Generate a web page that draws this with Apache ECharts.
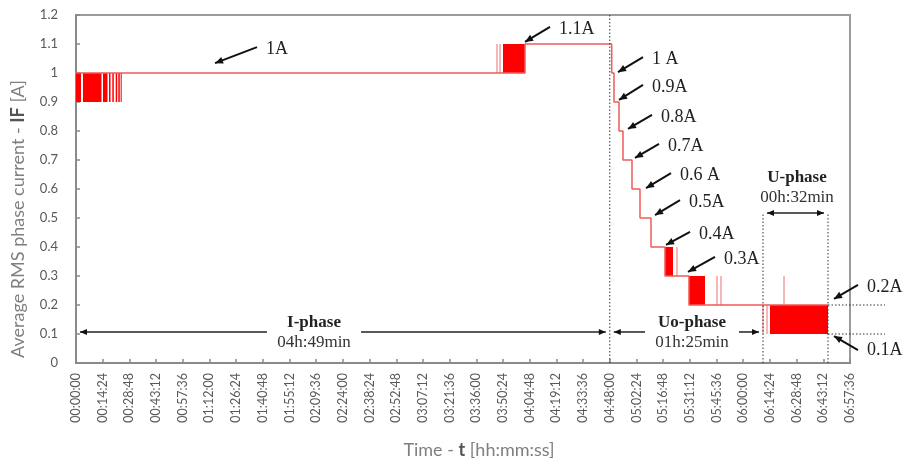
<!DOCTYPE html>
<html><head><meta charset="utf-8">
<script src="https://cdn.jsdelivr.net/npm/echarts@6/dist/echarts.min.js"></script>
<style>html,body{margin:0;padding:0;background:#fff}#c{width:907px;height:461px}</style>
</head><body><div id="c"></div>
<script>
// ---------- DATA ----------
const tickLabels = ['00:00:00','00:14:24','00:28:48','00:43:12','00:57:36','01:12:00','01:26:24','01:40:48','01:55:12','02:09:36','02:24:00','02:38:24','02:52:48','03:07:12','03:21:36','03:36:00','03:50:24','04:04:48','04:19:12','04:33:36','04:48:00','05:02:24','05:16:48','05:31:12','05:45:36','06:00:00','06:14:24','06:28:48','06:43:12','06:57:36'];

// corner points of the measured RMS current trace
const traceTimes  = ['00:00:00','04:02:15','04:02:15','04:49:02','04:49:02','04:50:16','04:50:16','04:52:58','04:52:58','04:55:07','04:55:07','04:59:59','04:59:59','05:04:18','05:04:18','05:10:14','05:10:14','05:17:47','05:17:47','05:30:44','05:30:44','06:45:44'];
const traceValues = [1.0,1.0,1.1,1.1,1.0,1.0,0.9,0.9,0.8,0.8,0.7,0.7,0.6,0.6,0.5,0.5,0.4,0.4,0.3,0.3,0.2,0.2];

// intervals of rapid switching between two current levels
const bandStart = ['00:00:00','00:03:47','00:14:34','00:17:48','00:19:35','00:21:25','00:22:49','00:24:07','03:50:23','05:17:47','05:30:44','06:14:26'];
const bandEnd   = ['00:02:42','00:13:45','00:17:00','00:18:37','00:20:24','00:22:14','00:23:38','00:24:39','04:02:15','05:22:06','05:39:22','06:45:44'];
const bandLow   = [0.9,0.9,0.9,0.9,0.9,0.9,0.9,0.9,1.0,0.3,0.2,0.1];
const bandHigh  = [1.0,1.0,1.0,1.0,1.0,1.0,1.0,1.0,1.1,0.4,0.3,0.2];

// isolated short switching spikes
const spikeTimes = ['03:47:09','03:48:46','05:24:15','05:45:50','05:48:00','06:10:40','06:12:49','06:22:00'];
const spikeLow   = [1.0,1.0,0.3,0.2,0.2,0.1,0.1,0.2];
const spikeHigh  = [1.1,1.1,0.4,0.3,0.3,0.2,0.2,0.3];

// level annotations (arrow tip in data coordinates)
const levelLabels    = ['1A','1.1A','1 A','0.9A','0.8A','0.7A','0.6 A','0.5A','0.4A','0.3A','0.2A','0.1A'];
const levelTipTimes  = ['01:15:00','04:02:15','04:52:26','04:52:58','04:57:49','05:01:36','05:07:32','05:12:23','05:18:20','05:30:12','06:48:58','06:48:58'];
const levelTipValues = [1.034,1.107,1.003,0.907,0.807,0.707,0.603,0.510,0.407,0.314,0.221,0.093];

// test phases
const phaseNames     = ['I-phase','Uo-phase','U-phase'];
const phaseDurations = ['04h:49min','01h:25min','00h:32min'];
const phaseStart     = ['00:00:00','04:48:00','06:10:40'];
const phaseEnd       = ['04:48:00','06:10:40','06:45:44'];
const phaseLabelTime = ['02:08:25','05:32:21','06:29:00'];
const phaseArrowValue= [0.107,0.107,0.517];
const phaseNameValue = [0.138,0.138,0.641];
const phaseDurValue  = [0.069,0.069,0.572];
const phaseGap       = [true,true,false];
const levelLines     = [0.2,0.1];
const levelLinesEnd  = '07:16:29';

// ---------- HELPERS ----------
function sec(s){const p=s.split(':').map(Number);return p[0]*3600+p[1]*60+p[2];}
const TMAX = sec('06:57:36'), TSTEP = sec('00:14:24');

const chart = echarts.init(document.getElementById('c'));
const serif = '"Liberation Serif","Times New Roman",serif';
const sans = 'Lato, "Open Sans", sans-serif';

const traceData = traceTimes.map((t,i)=>[sec(t),traceValues[i]]);
const bandData = bandStart.map((t,i)=>[sec(t),sec(bandEnd[i]),bandLow[i],bandHigh[i]]);
const spikeData = spikeTimes.map((t,i)=>[sec(t),spikeLow[i],spikeHigh[i]]);

chart.setOption({
  animation:false,
  grid:{left:76,right:57,top:15,bottom:98,show:true,borderColor:'#9b9b9b',borderWidth:2,containLabel:false},
  xAxis:{type:'value',min:0,max:TMAX,interval:TSTEP,
    axisLine:{lineStyle:{color:'#8a8a8a',width:2}},
    axisTick:{inside:true,length:4,lineStyle:{color:'#8a8a8a',width:1.5}},
    axisLabel:{rotate:90,margin:10,color:'#595959',fontFamily:sans,fontSize:12.5,
      formatter:v=>tickLabels[Math.round(v/TSTEP)]},
    splitLine:{show:false}},
  yAxis:{type:'value',min:0,max:1.2,interval:0.1,
    axisLine:{show:true,lineStyle:{color:'#8a8a8a',width:2}},
    axisTick:{show:true,inside:true,length:4,lineStyle:{color:'#8a8a8a',width:1.5}},
    axisLabel:{margin:18,color:'#595959',fontFamily:sans,fontSize:13,
      formatter:v=>String(+v.toFixed(1))},
    splitLine:{show:false}},
  series:[
    {type:'custom',renderItem:(params,api)=>{
        const a=api.coord([api.value(0),api.value(3)]), b=api.coord([api.value(1),api.value(2)]);
        return {type:'rect',shape:{x:a[0],y:a[1],width:Math.max(b[0]-a[0],1),height:b[1]-a[1]},style:{fill:'#ff0000'}};
      },data:bandData,encode:{x:[0,1],y:[2,3]},z:3},
    {type:'custom',renderItem:(params,api)=>{
        const a=api.coord([api.value(0),api.value(1)]), b=api.coord([api.value(0),api.value(2)]);
        return {type:'line',shape:{x1:a[0],y1:a[1],x2:b[0],y2:b[1]},style:{stroke:'#f2a0a0',lineWidth:1.5}};
      },data:spikeData,encode:{x:0,y:[1,2]},z:2},
    {type:'line',data:traceData,symbol:'none',lineStyle:{color:'#ef5a5a',width:1.5},z:4}
  ]
});

// ---------- ANNOTATIONS ----------
function P(t,v){return chart.convertToPixel({xAxisIndex:0,yAxisIndex:0},[typeof t==='string'?sec(t):t,v]);}
function head(tip,from,L,W){
  const dx=tip[0]-from[0],dy=tip[1]-from[1],d=Math.hypot(dx,dy),ux=dx/d,uy=dy/d;
  const bx=tip[0]-ux*L,by=tip[1]-uy*L;
  return {type:'polygon',shape:{points:[tip,[bx-uy*W,by+ux*W],[bx+uy*W,by-ux*W]]},style:{fill:'#111'},z:20};
}
const g=[];
const tailOff=[[42,-16],[25,-15],[25,-15],[24,-15],[24,-14],[24,-14],[25,-15],[25,-15],[24,-13],[27,-15],[24,-14],[24,14]];
levelLabels.forEach((lab,i)=>{
  const tip=P(levelTipTimes[i],levelTipValues[i]);
  const tail=[tip[0]+tailOff[i][0],tip[1]+tailOff[i][1]];
  g.push({type:'line',shape:{x1:tail[0],y1:tail[1],x2:tip[0],y2:tip[1]},style:{stroke:'#111',lineWidth:2},z:20});
  g.push(head(tip,tail,8,3.5));
  g.push({type:'text',x:tail[0]+9,y:tail[1]+(i===11?0:2),style:{text:lab,fill:'#222',font:'18px '+serif,textAlign:'left',textVerticalAlign:'middle'},z:20});
});
// phase arrows
phaseNames.forEach((nm,i)=>{
  const a=P(phaseStart[i],phaseArrowValue[i]), b=P(phaseEnd[i],phaseArrowValue[i]);
  const x1=a[0]+4,x2=b[0]-4,y=a[1];
  const c=P(phaseLabelTime[i],phaseNameValue[i]), d=P(phaseLabelTime[i],phaseDurValue[i]);
  if(phaseGap[i]){
    g.push({type:'line',shape:{x1:x1,y1:y,x2:c[0]-47,y2:y},style:{stroke:'#222',lineWidth:1.5},z:20});
    g.push({type:'line',shape:{x1:c[0]+47,y1:y,x2:x2,y2:y},style:{stroke:'#222',lineWidth:1.5},z:20});
  } else {
    g.push({type:'line',shape:{x1:x1,y1:y,x2:x2,y2:y},style:{stroke:'#222',lineWidth:1.5},z:20});
  }
  g.push(head([x1,y],[x1+10,y],7,3));
  g.push(head([x2,y],[x2-10,y],7,3));
  g.push({type:'text',x:c[0],y:c[1],style:{text:nm,fill:'#222',font:'bold 17px '+serif,textAlign:'center',textVerticalAlign:'middle'},z:20});
  g.push({type:'text',x:d[0],y:d[1],style:{text:phaseDurations[i],fill:'#333',font:'17px '+serif,textAlign:'center',textVerticalAlign:'middle'},z:20});
});
// dotted phase boundaries
const dotted={stroke:'#333',lineWidth:1,lineDash:[1.5,2]};
[['04:48:00',1.2],['06:10:40',phaseArrowValue[2]],['06:45:44',phaseArrowValue[2]]].forEach(([t,top])=>{
  const a=P(t,0),b=P(t,top);
  g.push({type:'line',shape:{x1:a[0],y1:a[1],x2:b[0],y2:b[1]},style:dotted,z:15});
});
levelLines.forEach(v=>{
  const a=P('06:45:44',v),b=P(levelLinesEnd,v);
  g.push({type:'line',shape:{x1:a[0],y1:a[1],x2:b[0],y2:b[1]},style:dotted,z:15});
});
// axis titles
g.push({type:'text',x:18,y:219,rotation:Math.PI/2,
  style:{text:'{n|Average RMS phase current - }{b|IF}{n| [A]}',textAlign:'center',textVerticalAlign:'middle',
    rich:{n:{fill:'#7f7f7f',fontFamily:sans,fontSize:18},b:{fill:'#555',fontFamily:sans,fontSize:18,fontWeight:'bold'}}},z:20});
g.push({type:'text',x:479,y:450,
  style:{text:'{n|Time - }{b|t}{n| [hh:mm:ss]}',textAlign:'center',textVerticalAlign:'middle',
    rich:{n:{fill:'#7f7f7f',fontFamily:sans,fontSize:18},b:{fill:'#555',fontFamily:sans,fontSize:18,fontWeight:'bold'}}},z:20});
chart.setOption({graphic:g});
</script></body></html>
